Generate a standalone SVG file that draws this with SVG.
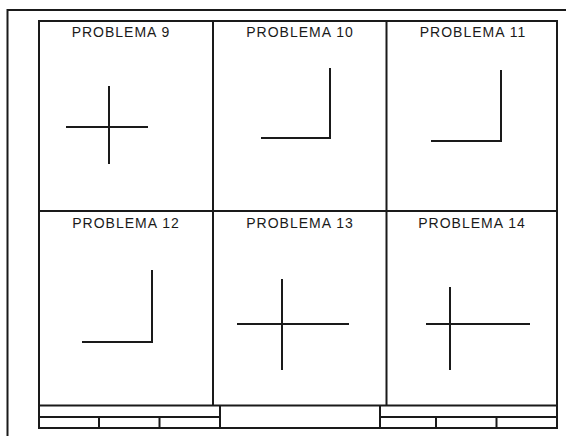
<svg xmlns="http://www.w3.org/2000/svg" width="566" height="436" viewBox="0 0 566 436">
  <style>
    .frame { fill: none; stroke: #1a1a1a; stroke-width: 2; }
    .fig { fill: none; stroke: #1a1a1a; stroke-width: 2; }
    .label { font-family: "Liberation Sans", Arial, sans-serif; font-size: 14px; letter-spacing: 1px; fill: #1a1a1a; text-anchor: middle; }
  </style>
  <rect width="566" height="436" fill="#ffffff"/>
  <g id="sheet-border">
    <path class="frame" d="M7.5 436 V10 H566"/>
  </g>
  <g id="frame">
    <rect class="frame" x="39" y="21" width="518" height="407"/>
    <line class="frame" x1="39" y1="211" x2="557" y2="211"/>
    <line class="frame" x1="213" y1="21" x2="213" y2="405.5"/>
    <line class="frame" x1="386.5" y1="21" x2="386.5" y2="405.5"/>
    <line class="frame" x1="39" y1="405.5" x2="557" y2="405.5"/>
  </g>
  <g id="title-block-left">
    <line class="frame" x1="39" y1="417" x2="220" y2="417"/>
    <line class="frame" x1="220" y1="405.5" x2="220" y2="428"/>
    <line class="frame" x1="99" y1="417" x2="99" y2="428"/>
    <line class="frame" x1="159.5" y1="417" x2="159.5" y2="428"/>
  </g>
  <g id="title-block-right">
    <line class="frame" x1="380" y1="417" x2="557" y2="417"/>
    <line class="frame" x1="380" y1="405.5" x2="380" y2="428"/>
    <line class="frame" x1="436" y1="417" x2="436" y2="428"/>
    <line class="frame" x1="496.5" y1="417" x2="496.5" y2="428"/>
  </g>
  <g id="problema-9">
    <text class="label" x="121" y="37">PROBLEMA 9</text>
    <line class="fig" x1="66" y1="127" x2="148" y2="127"/>
    <line class="fig" x1="109" y1="86" x2="109" y2="164"/>
  </g>
  <g id="problema-10">
    <text class="label" x="300" y="37">PROBLEMA 10</text>
    <path class="fig" d="M261 138 H330 V68"/>
  </g>
  <g id="problema-11">
    <text class="label" x="473" y="37">PROBLEMA 11</text>
    <path class="fig" d="M431 141 H501 V70"/>
  </g>
  <g id="problema-12">
    <text class="label" x="126" y="228">PROBLEMA 12</text>
    <path class="fig" d="M82 342 H152 V270"/>
  </g>
  <g id="problema-13">
    <text class="label" x="300" y="228">PROBLEMA 13</text>
    <line class="fig" x1="237" y1="324" x2="349" y2="324"/>
    <line class="fig" x1="282" y1="279" x2="282" y2="370"/>
  </g>
  <g id="problema-14">
    <text class="label" x="472" y="228">PROBLEMA 14</text>
    <line class="fig" x1="426" y1="324" x2="530" y2="324"/>
    <line class="fig" x1="450" y1="287" x2="450" y2="370"/>
  </g>
</svg>
